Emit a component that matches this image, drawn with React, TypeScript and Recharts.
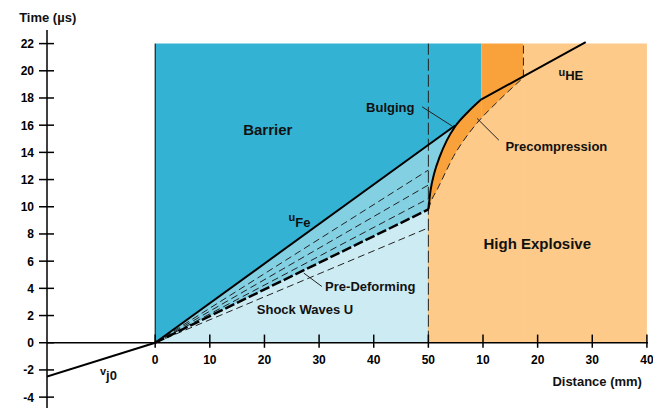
import { ComposedChart, XAxis, YAxis, Area, Line, ReferenceLine, ReferenceDot } from "recharts"

const FONT = "'Liberation Sans', Arial, Helvetica, sans-serif"

// axes
const Y_TICKS = [-4, -2, 0, 2, 4, 6, 8, 10, 12, 14, 16, 18, 20, 22]
const X_TICK_POS = [0, 10, 20, 30, 40, 50, 60, 70, 80, 90]
const X_TICK_LABELS = ["0", "10", "20", "30", "40", "50", "10", "20", "30", "40"]

// zones: top edge of each fill, filled down to t = 0
const BARRIER_ZONE = [{ x: 0, y: 22 }, { x: 59.7, y: 22 }]
const GAP_ZONE = [{ x: 59.7, y: 22 }, { x: 67.4, y: 22 }]
const HE_ZONE = [{ x: 67.4, y: 22 }, { x: 90, y: 22 }]
const UFE_LINE = [{ x: 0, y: 0 }, { x: 54.9, y: 15.98 }]
const SHOCK_LINE = [{ x: 0, y: 0 }, { x: 50, y: 9.8 }]
const BULGE = [
  { x: 50, y: 9.8 },
  { x: 50.4, y: 11.2 },
  { x: 51.1, y: 12.5 },
  { x: 52.1, y: 13.7 },
  { x: 53.4, y: 14.9 },
  { x: 54.9, y: 15.9 },
  { x: 57.2, y: 16.95 },
  { x: 59.7, y: 17.9 },
]
const PRECOMP = [
  { x: 50, y: 9.8 },
  { x: 50.6, y: 10.5 },
  { x: 51.6, y: 11.25 },
  { x: 53.1, y: 12.5 },
  { x: 54.6, y: 13.7 },
  { x: 56.5, y: 14.9 },
  { x: 58.9, y: 16.15 },
  { x: 62.6, y: 17.7 },
  { x: 67.4, y: 19.5 },
]
const UHE_LINE = [{ x: 59.7, y: 17.9 }, { x: 78.8, y: 22.1 }]
const VJ0_LINE = [{ x: -19.8, y: -2.48 }, { x: 0, y: 0 }]

// dashed fan inside the barrier
const FAN_TOP = [{ x: 0, y: 0 }, { x: 50, y: 12.7 }]
const FAN_MID = [{ x: 0, y: 0 }, { x: 50, y: 11.6 }]
const FAN_LOW = [{ x: 0, y: 0 }, { x: 50, y: 10.6 }]
const FAN_SHOCK = [{ x: 0, y: 0 }, { x: 50, y: 8.45 }]

// leader lines for the callouts
const BULGING_LEADER = [{ x: 48.85, y: 17.35 }, { x: 54.3, y: 15.95 }]
const PRECOMP_LEADER = [{ x: 58.9, y: 16.5 }, { x: 62.9, y: 14.9 }]
const PREDEFORM_LEADER = [{ x: 27.2, y: 5.12 }, { x: 30.5, y: 4.14 }]

const BARRIER_BLUE = "#33b2d4"
const WEDGE_BLUE = "#84d0e3"
const SHOCK_BLUE = "#cdebf3"
const HE_TAN = "#fdca89"
const ORANGE = "#f9a23c"

function YTick({ x, y, payload }: any) {
  return (
    <g>
      <line x1={x - 8} x2={x + 7} y1={y} y2={y} stroke="#000" strokeWidth={1.5} />
      <text x={x - 13} y={y + 4.5} textAnchor="end" fontSize={12} fontWeight="bold" fill="#000" fontFamily={FONT}>
        {payload.value}
      </text>
    </g>
  )
}

function Note({ viewBox, text, size = 13, sub, subSize = 13, subDy = 0 }: any) {
  if (!viewBox) return null
  return (
    <text x={viewBox.x} y={viewBox.y} fontSize={size} fontWeight="bold" fill="#111" fontFamily={FONT}>
      {text}
      {sub && (
        <tspan dy={subDy} fontSize={subSize}>
          {sub}
        </tspan>
      )}
    </text>
  )
}

export default function App() {
  const solid = { stroke: "#000", strokeWidth: 2, dot: false, activeDot: false, isAnimationActive: false, type: "linear" as const, dataKey: "y" }
  const thinDash = { ...solid, stroke: "#222", strokeWidth: 1, strokeDasharray: "7 4" }
  const leader = { ...solid, stroke: "#222", strokeWidth: 1 }

  return (
    <div style={{ position: "absolute", left: 0, top: 0, width: 653, height: 408, background: "#fff", fontFamily: FONT }}>
      <ComposedChart width={653} height={408} margin={{ top: 30, right: 5, bottom: 0, left: 0 }}>
        <XAxis type="number" dataKey="x" domain={[-19.8, 90.2]} allowDataOverflow hide />
        <YAxis
          type="number"
          domain={[-4.8, 23]}
          allowDataOverflow
          ticks={Y_TICKS}
          interval={0}
          width={47}
          tickSize={0}
          tickMargin={0}
          tickLine={false}
          axisLine={{ stroke: "#000", strokeWidth: 1.5 }}
          tick={<YTick />}
        />

        <Area data={BARRIER_ZONE} dataKey="y" type="linear" baseValue={0} fill={BARRIER_BLUE} fillOpacity={1} stroke="none" isAnimationActive={false} />
        <Area data={GAP_ZONE} dataKey="y" type="linear" baseValue={0} fill={ORANGE} fillOpacity={1} stroke="none" isAnimationActive={false} />
        <Area data={HE_ZONE} dataKey="y" type="linear" baseValue={0} fill={HE_TAN} fillOpacity={1} stroke="none" isAnimationActive={false} />
        <Area data={UFE_LINE} dataKey="y" type="linear" baseValue={0} fill={WEDGE_BLUE} fillOpacity={1} stroke="none" isAnimationActive={false} />
        <Area data={SHOCK_LINE} dataKey="y" type="linear" baseValue={0} fill={SHOCK_BLUE} fillOpacity={1} stroke="none" isAnimationActive={false} />
        <Area data={BULGE} dataKey="y" type="monotone" baseValue={0} fill={ORANGE} fillOpacity={1} stroke="none" isAnimationActive={false} />
        <Area data={PRECOMP} dataKey="y" type="monotone" baseValue={0} fill={HE_TAN} fillOpacity={1} stroke="none" isAnimationActive={false} />

        <ReferenceLine segment={[{ x: 0, y: 0 }, { x: 0, y: 22 }]} stroke="#000" strokeWidth={1} />
        <ReferenceLine segment={[{ x: 50, y: 0 }, { x: 50, y: 22 }]} stroke="#222" strokeWidth={1} strokeDasharray="12 4" />
        <ReferenceLine segment={[{ x: 67.4, y: 19.5 }, { x: 67.4, y: 22 }]} stroke="#222" strokeWidth={1} strokeDasharray="8 4" />

        <Line data={FAN_TOP} {...thinDash} />
        <Line data={FAN_MID} {...thinDash} />
        <Line data={FAN_LOW} {...thinDash} />
        <Line data={FAN_SHOCK} {...thinDash} />
        <Line data={PRECOMP} {...thinDash} type="monotone" />
        <Line data={SHOCK_LINE} {...solid} strokeWidth={2.5} strokeDasharray="10 3" />
        <Line data={UFE_LINE} {...solid} />
        <Line data={BULGE} {...solid} type="monotone" />
        <Line data={UHE_LINE} {...solid} />
        <Line data={VJ0_LINE} {...solid} />
        <Line data={BULGING_LEADER} {...leader} />
        <Line data={PRECOMP_LEADER} {...leader} />
        <Line data={PREDEFORM_LEADER} {...leader} />

        <ReferenceLine y={0} stroke="#000" strokeWidth={1.5} />
        {X_TICK_POS.map((t, i) => (
          <ReferenceLine
            key={t}
            segment={[{ x: t, y: 0.6 }, { x: t, y: -0.37 }]}
            stroke="#000"
            strokeWidth={1.5}
            label={{ value: X_TICK_LABELS[i], position: "bottom", offset: 8, fontSize: 12, fontWeight: "bold", fill: "#000", fontFamily: FONT }}
          />
        ))}

        <ReferenceDot x={-24.9} y={23.6} r={0} ifOverflow="visible" label={<Note text="Time (µs)" size={13} />} />
        <ReferenceDot x={16.1} y={15.3} r={0} label={<Note text="Barrier" size={15} />} />
        <ReferenceDot x={38.6} y={17.0} r={0} label={<Note text="Bulging" />} />
        <ReferenceDot x={73.8} y={19.6} r={0} label={<Note text="u" size={11} sub="HE" subDy={4} />} />
        <ReferenceDot x={64.1} y={14.1} r={0} label={<Note text="Precompression" />} />
        <ReferenceDot x={24.4} y={8.97} r={0} label={<Note text="u" size={11} sub="Fe" subDy={6} />} />
        <ReferenceDot x={60.1} y={6.9} r={0} label={<Note text="High Explosive" size={15} />} />
        <ReferenceDot x={31.1} y={3.77} r={0} label={<Note text="Pre-Deforming" />} />
        <ReferenceDot x={18.6} y={2.13} r={0} label={<Note text="Shock Waves U" />} />
        <ReferenceDot x={-10.1} y={-2.35} r={0} label={<Note text="v" size={11} sub="j0" subDy={5.5} />} />
        <ReferenceDot x={72.7} y={-3.16} r={0} label={<Note text="Distance (mm)" />} />
      </ComposedChart>
    </div>
  )
}
